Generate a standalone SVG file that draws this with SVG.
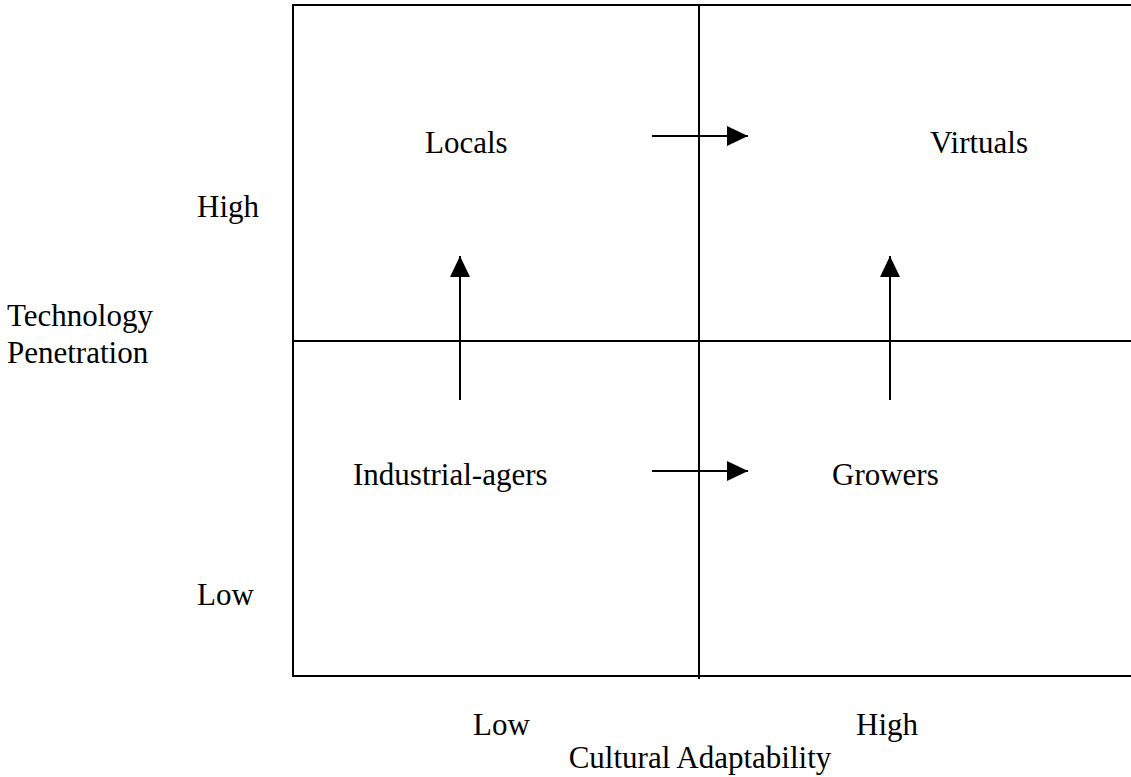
<svg xmlns="http://www.w3.org/2000/svg" width="1131" height="777" viewBox="0 0 1131 777">
<style>
text{font-family:"Liberation Serif","Times New Roman",serif;font-size:31px;fill:#000}
.ln{stroke:#000;stroke-width:2;fill:none}
.ar{stroke:#000;stroke-width:2;fill:none}
</style>
<defs>
<marker id="ah" markerUnits="userSpaceOnUse" markerWidth="22" markerHeight="22" viewBox="0 0 22 22" refX="21" refY="11" orient="auto">
<polygon points="0,1 21,11 0,21" fill="#000"/>
</marker>
</defs>
<rect width="1131" height="777" fill="#fff"/>
<g id="grid">
<line class="ln" x1="292" y1="5" x2="1131" y2="5"/>
<line class="ln" x1="293" y1="4" x2="293" y2="677"/>
<line class="ln" x1="292" y1="676" x2="1131" y2="676"/>
<line class="ln" x1="292" y1="341" x2="1131" y2="341"/>
<line class="ln" x1="699" y1="5" x2="699" y2="679"/>
</g>
<g id="connectors">
<line class="ar" x1="652" y1="136" x2="748" y2="136" marker-end="url(#ah)"/>
<line class="ar" x1="652" y1="471" x2="748" y2="471" marker-end="url(#ah)"/>
<line class="ar" x1="460" y1="400" x2="460" y2="256" marker-end="url(#ah)"/>
<line class="ar" x1="890" y1="400" x2="890" y2="256" marker-end="url(#ah)"/>
</g>
<g id="locals"><text x="425" y="153">Locals</text></g>
<g id="virtuals"><text x="930" y="153">Virtuals</text></g>
<g id="industrial-agers"><text x="353" y="485">Industrial-agers</text></g>
<g id="growers"><text x="832" y="485">Growers</text></g>
<g id="axis-y">
<text x="197" y="217">High</text>
<text x="197" y="605">Low</text>
<text x="7" y="326">Technology</text>
<text x="7" y="363">Penetration</text>
</g>
<g id="axis-x">
<text x="473" y="735">Low</text>
<text x="856" y="735">High</text>
<text x="700" y="768" text-anchor="middle">Cultural Adaptability</text>
</g>
</svg>
